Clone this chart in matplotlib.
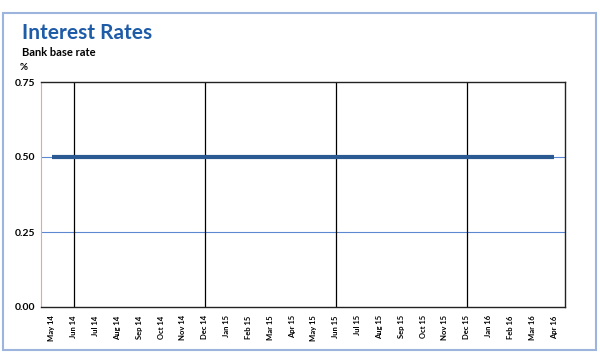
import matplotlib.pyplot as plt
from matplotlib.patches import Rectangle

months = ["May 14", "Jun 14", "Jul 14", "Aug 14", "Sep 14", "Oct 14", "Nov 14", "Dec 14",
          "Jan 15", "Feb 15", "Mar 15", "Apr 15", "May 15", "Jun 15", "Jul 15", "Aug 15",
          "Sep 15", "Oct 15", "Nov 15", "Dec 15", "Jan 16", "Feb 16", "Mar 16", "Apr 16"]
base_rate = [0.50] * 24
vline_months = ["Jun 14", "Dec 14", "Jun 15", "Dec 15"]
yticks = [0.00, 0.25, 0.50, 0.75]

plt.rcParams['font.family'] = ['Lato', 'DejaVu Sans']

fig = plt.figure(figsize=(6, 3.59), dpi=100)
W, H = 600, 359

# outer border
fig.patches.append(Rectangle((3 / W, 1 - 350 / H), 593 / W, (350 - 13) / H,
                             transform=fig.transFigure, fill=False,
                             edgecolor="#9db5dc", linewidth=1.5))

ax = fig.add_axes([41 / W, 1 - 307 / H, 524 / W, 225 / H])
x = list(range(len(months)))
ax.set_xlim(-0.5, len(months) - 0.5)
ax.set_ylim(0, 0.75)

for yv in [0.25, 0.5]:
    ax.axhline(yv, color="#5b88d0", linewidth=0.8, zorder=1)
for m in vline_months:
    ax.axvline(months.index(m), color="black", linewidth=0.9, zorder=2)

ax.plot(x, base_rate, color="#2b5a92", linewidth=3, solid_capstyle="butt", zorder=3)

ax.set_yticks(yticks)
ax.set_yticklabels([f"{v:.2f}" for v in yticks], fontsize=7.5, fontweight="bold")
ax.set_xticks(x)
ax.set_xticklabels(months, rotation=90, fontsize=5.5, fontweight="bold")
ax.tick_params(axis="both", length=0, pad=6)
ax.tick_params(axis="y", pad=4)

for s in ["top", "right", "bottom"]:
    ax.spines[s].set_color("#222222")
    ax.spines[s].set_linewidth(1.0)
ax.spines["left"].set_color("#f0a0a0")
ax.spines["left"].set_linewidth(0.8)

fig.text(22 / W, 1 - 33 / H, "Interest Rates", color="#1f5ca8", fontsize=15,
         fontweight="bold", va="center")
fig.text(22 / W, 1 - 53 / H, "Bank base rate", color="black", fontsize=8,
         fontweight="bold", va="center")
fig.text(20 / W, 1 - 68 / H, "%", color="black", fontsize=7, fontweight="bold", va="center")

fig.savefig("out.png", dpi=100)
